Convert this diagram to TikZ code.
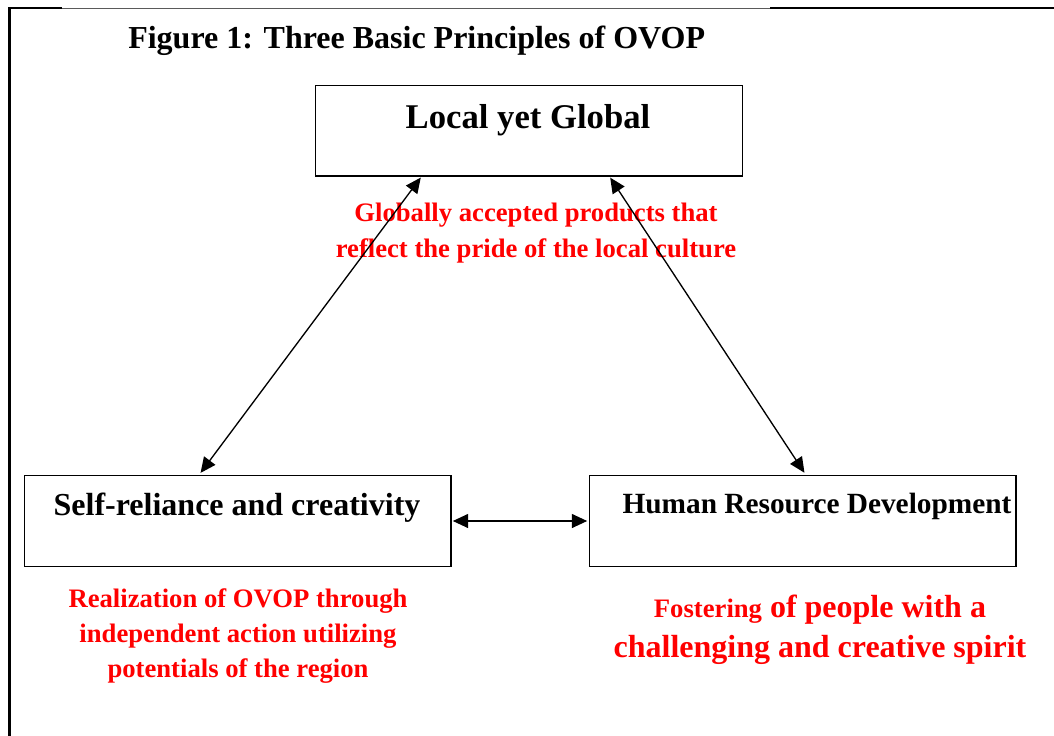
\documentclass[tikz,border=0pt]{standalone}
\usepackage{fontspec}
\setmainfont{Liberation Serif}
\usetikzlibrary{positioning,calc,arrows.meta}
\definecolor{NoteRed}{RGB}{255,0,0}
\definecolor{FrameGray}{RGB}{90,90,90}
\tikzset{
  box/.style={draw=black,line width=1pt,minimum width=320pt,minimum height=68pt,inner sep=0pt},
  boxtext/.style={font=\bfseries\fontsize{#1}{#1}\selectfont,inner sep=0pt},
  note/.style={text=NoteRed,align=center,inner sep=0pt,font=\bfseries\fontsize{20}{26.5}\selectfont},
  link/.style={draw=black,line width=1pt,
    {Triangle[length=11.5pt,width=10.5pt]}-{Triangle[length=11.5pt,width=10.5pt]}},
}

\begin{document}
\begin{tikzpicture}[x=0.75pt,y=-0.75pt]
\useasboundingbox (0,0) rectangle (1054,736);
% frame, cut at the right and bottom
\draw[black,line width=1.2pt] (8,8) -- (62,8);
\draw[FrameGray,line width=0.7pt] (62,8) -- (770,8);
\draw[black,line width=1.4pt] (770,8) -- (1054,8);
\draw[black,line width=1.8pt] (9.5,8) -- (9.5,736);

\node[boxtext=24,anchor=west] (title) at (128,41) {Figure 1: Three Basic Principles of OVOP};

% the three principles
\node[box] (global) at (529,130.5) {};
\node[box] (self) at (237.5,521) {};
\node[box] (human) at (802.5,521) {};
\node[boxtext=26] (globaltxt) at (528,120) {Local yet Global};
\node[boxtext=24] (selftxt) at (237,508) {Self-reliance and creativity};
\node[boxtext=22] (humantxt) at (817,506) {Human Resource Development};

% notes
\node[note] (globalnote) at (536,233) {Globally accepted products that\\reflect the pride of the local culture};
\node[note] (selfnote) at (238,636) {Realization of OVOP through\\independent action utilizing\\potentials of the region};
\node[note,font=\bfseries\fontsize{24}{30}\selectfont] (humannote) at (820,629.5)
  {{\fontsize{20}{30}\selectfont Fostering} of people with a\\challenging and creative spirit};

% links
\coordinate (gl) at ($(global.south west)!0.249!(global.south east)$);
\coordinate (gr) at ($(global.south west)!0.688!(global.south east)$);
\coordinate (sl) at ($(self.north west)!0.41!(self.north east)$);
\coordinate (hr) at ($(human.north west)!0.508!(human.north east)$);
\draw[link,shorten <=2pt,shorten >=1pt] (sl) -- (gl);
\draw[link,shorten <=1pt,shorten >=2pt] (gr) -- (hr);
\draw[link,shorten <=1pt,shorten >=1pt] (self.east) -- (human.west);
\end{tikzpicture}
\end{document}
